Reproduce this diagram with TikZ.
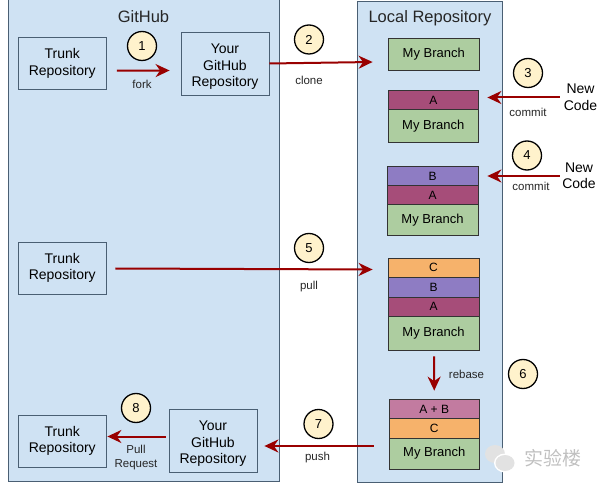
\documentclass[tikz,border=0pt]{standalone}
\usepackage{fontspec}
\setmainfont{Liberation Sans}
\newfontfamily\cjk{Noto Sans CJK SC}
\usetikzlibrary{arrows.meta}
\definecolor{panelblue}{HTML}{CFE2F3}
\definecolor{edgeblue}{HTML}{4A5F73}
\definecolor{branchgreen}{HTML}{ADCDA0}
\definecolor{commitA}{HTML}{A64D79}
\definecolor{commitB}{HTML}{8E7CC3}
\definecolor{commitC}{HTML}{F6B26B}
\definecolor{commitAB}{HTML}{C27BA0}
\definecolor{stepyellow}{HTML}{FFF2CC}
\definecolor{flowred}{HTML}{990000}
\definecolor{markgrey}{HTML}{E2E2E2}
\tikzset{
  panel/.style={draw=edgeblue, thick, fill=panelblue},
  repobox/.style={draw=edgeblue, thick, fill=panelblue, align=center, font=\fontsize{14}{16.5}\selectfont},
  branchbox/.style={draw=black!80, thick, fill=branchgreen, font=\fontsize{13}{15}\selectfont},
  layerA/.style={draw=black!80, thick, fill=commitA, font=\fontsize{12}{14}\selectfont},
  layerB/.style={draw=black!80, thick, fill=commitB, font=\fontsize{12}{14}\selectfont},
  layerC/.style={draw=black!80, thick, fill=commitC, font=\fontsize{12}{14}\selectfont},
  layerAB/.style={draw=black!80, thick, fill=commitAB, font=\fontsize{12}{14}\selectfont},
  stepmark/.style={circle, draw=black, line width=1.3pt, fill=stepyellow, minimum size=29pt, inner sep=0pt, font=\fontsize{13}{15}\selectfont},
  flow/.style={draw=flowred, line width=2pt, -{Stealth[length=14pt,width=13pt,inset=4.5pt]}},
  small/.style={align=center, font=\fontsize{11.5}{14}\selectfont, text=black!85},
  title/.style={font=\fontsize{16.5}{19}\selectfont, text=black!85},
  newcode/.style={align=center, font=\fontsize{14}{16.5}\selectfont}
}
% #1 name, #2-#5 corners, #6 style, #7 text
\newcommand{\cell}[7]{\node[#6, inner sep=0pt, minimum width={(#4-#2)*1pt}, minimum height={(#5-#3)*1pt}] (#1) at ({(#2+#4)/2},{(#3+#5)/2}) {#7};}
\newcommand{\yourtext}{\rule{0pt}{16pt}Your\\GitHub\\Repository}
\begin{document}
\begin{tikzpicture}[x=1pt,y=-1pt]
        \useasboundingbox (0,0) rectangle (600,489);

        % panels
        \cell{github}{8}{-1}{279}{481}{panel}{}
        \cell{local}{357}{1}{502}{482}{panel}{}
        \node[title] (githubtitle) at (143.5,17) {GitHub};
        \node[title] (localtitle) at (430,18.5) {Local Repository};

        % github boxes
        \cell{trunkA}{18}{37}{106.5}{89.5}{repobox}{Trunk\\Repository}
        \cell{yourA}{181}{32}{269}{95}{repobox}{\yourtext}
        \cell{trunkB}{18}{242}{106.5}{294}{repobox}{Trunk\\Repository}
        \cell{trunkC}{18}{415}{106.5}{467}{repobox}{Trunk\\Repository}
        \cell{yourC}{169}{409}{257}{472}{repobox}{\yourtext}

        % stack1
        \cell{branchA}{388}{38}{479.5}{70.5}{branchbox}{My Branch}

        % stack2
        \cell{layerAa}{388}{90.5}{478.5}{109.5}{layerA}{A}
        \cell{branchB}{388}{109.5}{478.5}{142}{branchbox}{My Branch}

        % stack3
        \cell{layerBb}{387}{166.5}{478}{185.5}{layerB}{B}
        \cell{layerBa}{387}{185.5}{478}{204.5}{layerA}{A}
        \cell{branchC}{387}{204.5}{478}{235}{branchbox}{My Branch}

        % stack4
        \cell{layerCc}{388}{258}{479}{277.5}{layerC}{C}
        \cell{layerCb}{388}{277.5}{479}{297}{layerB}{B}
        \cell{layerCa}{388}{297}{479}{316.5}{layerA}{A}
        \cell{branchD}{388}{316.5}{479}{350}{branchbox}{My Branch}

        % stack5
        \cell{layerDab}{389}{399.5}{479.5}{418.5}{layerAB}{A + B}
        \cell{layerDc}{389}{418.5}{479.5}{438}{layerC}{C}
        \cell{branchE}{389}{438}{479.5}{469}{branchbox}{My Branch}

        % new code
        \node[newcode] (codeA) at (580.5,97.5) {New\\Code};
        \node[newcode] (codeB) at (579,176) {New\\Code};

        % flows
        \draw[flow] ([shift={(10,7.5)}]trunkA.east) -- ([shift={(-11,7)}]yourA.west);
        \draw[flow] (yourA.east) -- ([shift={(-15,7.75)}]branchA.west);
        \draw[flow] ([shift={(-0.5,0)}]codeA.west) -- ([shift={(8.5,-2.5)}]layerAa.east);
        \draw[flow] ([shift={(1,0)}]codeB.west) -- ([shift={(9,0)}]layerBb.east);
        \draw[flow] ([shift={(8.5,0.5)}]trunkB.east) -- ([shift={(-15,1.75)}]layerCc.west);
        \draw[flow] ([shift={(0.5,6)}]branchD.south) -- ([shift={(0,-8.5)}]layerDab.north);
        \draw[flow] ([shift={(-15,-7.5)}]branchE.west) -- ([shift={(7,5.5)}]yourC.east);
        \draw[flow] ([shift={(-3,-4)}]yourC.west) -- ([shift={(0.5,-4.5)}]trunkC.east);

        % steps
        \node[stepmark] (stepA) at (142,46) {1};
        \node[stepmark] (stepB) at (309,39.5) {2};
        \node[stepmark] (stepC) at (528,73) {3};
        \node[stepmark] (stepD) at (527,155.5) {4};
        \node[stepmark] (stepE) at (309,248) {5};
        \node[stepmark] (stepF) at (523,374) {6};
        \node[stepmark] (stepG) at (318.5,424) {7};
        \node[stepmark] (stepH) at (136,408) {8};

        % labels
        \node[small] (forklabel) at (142,84) {fork};
        \node[small] (clonelabel) at (309,80.5) {clone};
        \node[small] (commitA) at (528,112) {commit};
        \node[small] (commitB) at (531,186) {commit};
        \node[small] (pulllabel) at (309,286.5) {pull};
        \node[small] (rebaselabel) at (466.5,374) {rebase};
        \node[small] (pushlabel) at (317.5,457.5) {push};
        \node[small] (requestlabel) at (136,457.5) {Pull\\Request};

        % watermark
        \fill[markgrey] (495,454) ellipse (10 and 9);
        \fill[white] (505,463) ellipse (11 and 9.5);
        \fill[markgrey] (505,463) ellipse (9.5 and 8);
        \node[text=markgrey!85!black, font=\cjk\fontsize{19}{21}\selectfont] (marktext) at (552.5,458.5) {实验楼};
\end{tikzpicture}
\end{document}
